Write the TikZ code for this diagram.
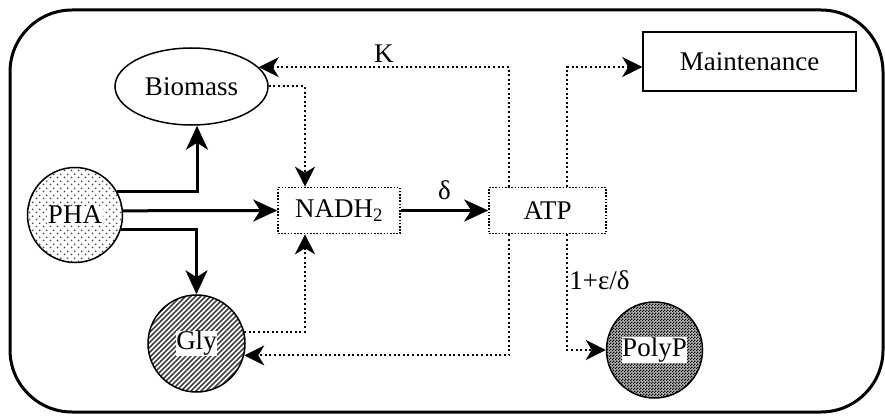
\documentclass[tikz,border=0pt]{standalone}
\usepackage{fontspec}
\setmainfont{Liberation Serif}
\usetikzlibrary{arrows.meta,shapes.geometric,patterns}

\pgfdeclarepatternformonly{pdots}{\pgfqpoint{0pt}{0pt}}{\pgfqpoint{7pt}{7pt}}{\pgfqpoint{7pt}{7pt}}{%
  \pgfpathcircle{\pgfqpoint{1.75pt}{1.75pt}}{1.1pt}%
  \pgfpathcircle{\pgfqpoint{5.25pt}{5.25pt}}{1.1pt}%
  \pgfusepath{fill}}
\pgfdeclarepatternformonly{plines}{\pgfqpoint{-1pt}{-1pt}}{\pgfqpoint{6pt}{6pt}}{\pgfqpoint{5pt}{5pt}}{%
  \pgfsetlinewidth{1.6pt}%
  \pgfpathmoveto{\pgfqpoint{0pt}{0pt}}\pgfpathlineto{\pgfqpoint{5.1pt}{5.1pt}}\pgfusepath{stroke}}
\pgfdeclarepatternformonly{pchecker}{\pgfqpoint{0pt}{0pt}}{\pgfqpoint{3pt}{3pt}}{\pgfqpoint{3pt}{3pt}}{%
  \pgfpathrectangle{\pgfqpoint{0pt}{0pt}}{\pgfqpoint{1.5pt}{1.5pt}}%
  \pgfpathrectangle{\pgfqpoint{1.5pt}{1.5pt}}{\pgfqpoint{1.5pt}{1.5pt}}%
  \pgfusepath{fill}}

\tikzset{
  solidarrow/.style={line width=3pt, -{Stealth[length=24pt,width=22pt,inset=7pt]}},
  dotarrow/.style={line width=2pt, dash pattern=on 2pt off 2.6pt, -{Stealth[length=20pt,width=20pt,inset=6pt]}},
  dotbox/.style={draw, line width=1.6pt, dash pattern=on 1.6pt off 1.6pt, minimum height=46pt, inner sep=0pt},
  pool/.style={circle, draw, line width=1.5pt, inner sep=0pt},
  poollabel/.style={fill=white, inner sep=0.5pt},
}

\begin{document}
\begin{tikzpicture}[x=1pt, y=-1pt, font=\fontsize{27}{31}\selectfont]
\useasboundingbox (0,0) rectangle (885,417);
\fill[white] (0,0) rectangle (885,417);
\draw[line width=3pt, rounded corners=62pt] (10,10) rectangle (883,412);

\node[ellipse, draw, line width=1.5pt, minimum width=153pt, minimum height=77pt, inner sep=0pt] (bio) at (191.5,86.5) {Biomass};
\node[pool, minimum size=95pt, preaction={fill=white}, pattern=pdots, pattern color=black!70,
      label={[poollabel]center:PHA}] (pha) at (75,215) {};
\node[dotbox, minimum width=122pt] (nadh) at (339,210.5) {NADH\textsubscript{2}};
\node[dotbox, minimum width=117pt] (atp) at (547.5,210.5) {ATP};
\node[draw, line width=1.5pt, minimum width=213pt, minimum height=59pt, inner sep=0pt] (maint) at (749.5,61.5) {Maintenance};
\node[pool, minimum size=97pt, preaction={fill=white}, pattern=plines, pattern color=black!75,
      label={[poollabel]center:Gly}] (gly) at (196.5,343.5) {};
\node[pool, minimum size=96pt, preaction={fill=black!30}, pattern=pchecker, pattern color=black,
      label={[poollabel]center:PolyP}] (polyp) at (654.5,350) {};

\draw[solidarrow] (pha.29) -| ([xshift=5.5pt]bio.south);
\draw[solidarrow] (pha.5) -- (nadh.west);
\draw[solidarrow] (pha.-18) -| (gly.north);
\draw[solidarrow] (nadh.east) -- node[above, yshift=6pt]{δ} (atp.west);

\draw[dotarrow] (bio.east) -| ([xshift=-34pt]nadh.north);
\draw[dotarrow] (gly.14) -| ([xshift=-34pt]nadh.south);
\draw[dotarrow] ([xshift=-38.5pt]atp.north) |- node[pos=0.75, above]{K} (bio.16.5);
\draw[dotarrow] ([xshift=19.5pt]atp.north) |- ([yshift=-5.5pt]maint.west);
\draw[dotarrow] ([xshift=-38.5pt]atp.south) |- (gly.-14);
\draw[dotarrow] ([xshift=19.5pt]atp.south) |- node[pos=0.2, right, xshift=-2pt]{1+ε/δ} (polyp.west);
\end{tikzpicture}
\end{document}
